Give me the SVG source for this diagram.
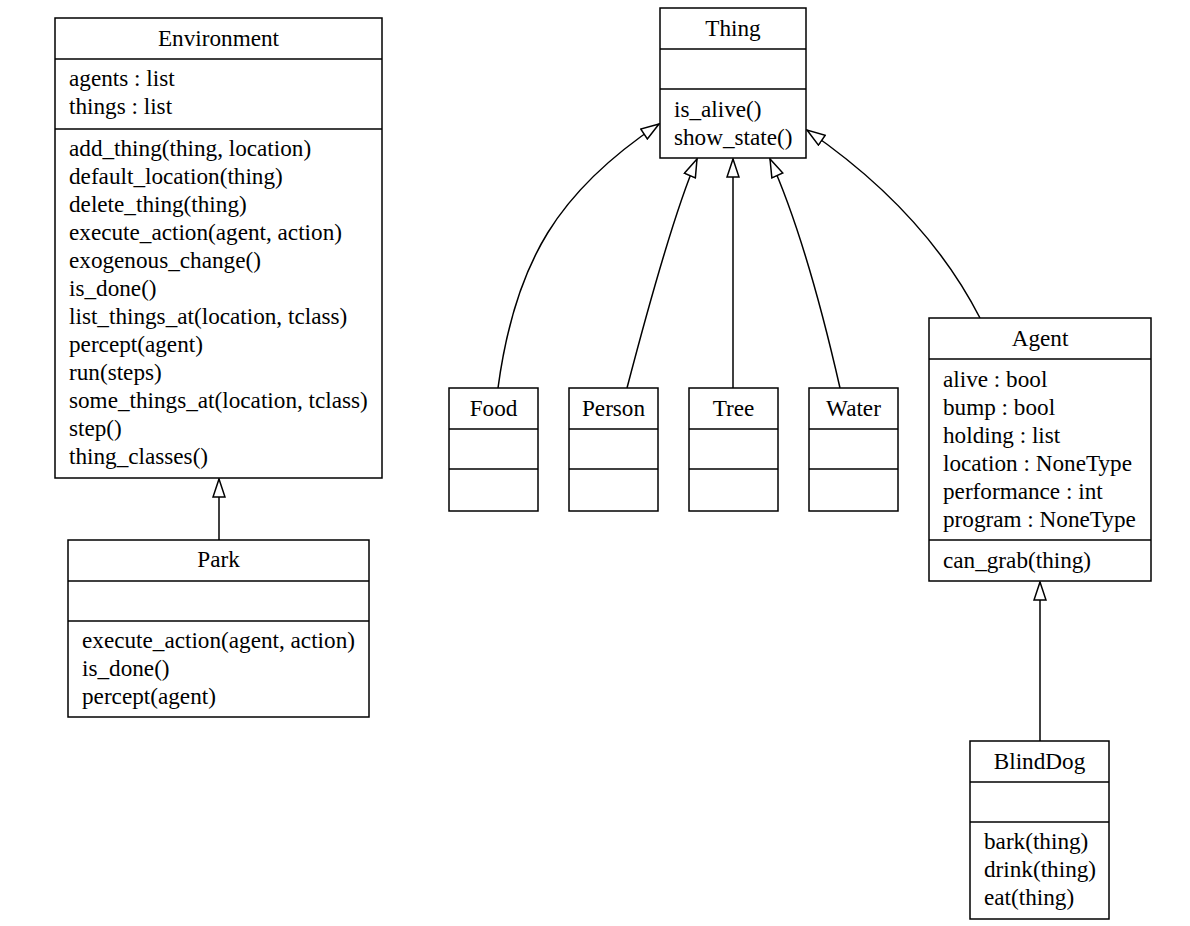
<svg xmlns="http://www.w3.org/2000/svg" width="1190" height="926" viewBox="0 0 1190 926">
<style>
.box{fill:#fff;stroke:#000;stroke-width:1.5}
.ln{stroke:#000;stroke-width:1.5}
text{font-family:"Liberation Serif","Times New Roman",serif;font-size:23.2px;fill:#000}
.t{text-anchor:middle}
.edge{fill:none;stroke:#000;stroke-width:1.5}
</style>
<defs>
<marker id="tri" markerUnits="userSpaceOnUse" markerWidth="20" markerHeight="14" viewBox="-1 -1 20 14" refX="18" refY="6" orient="auto">
<path d="M18,6 L0,0 L0,12 Z" fill="#fff" stroke="#000" stroke-width="1.5"/>
</marker>
</defs>
<rect width="1190" height="926" fill="#fff"/>
<g id="connectors">
<path class="edge" d="M219,540 L219,479" marker-end="url(#tri)"/>
<path class="edge" d="M498,388 C515,260 560,190 659,124" marker-end="url(#tri)"/>
<path class="edge" d="M627,388 C650,300 675,210 697,159" marker-end="url(#tri)"/>
<path class="edge" d="M733,388 L733,159" marker-end="url(#tri)"/>
<path class="edge" d="M840,388 C820,300 795,215 770,159" marker-end="url(#tri)"/>
<path class="edge" d="M980,318 C940,240 880,180 807,130" marker-end="url(#tri)"/>
<path class="edge" d="M1040,741 L1040,582" marker-end="url(#tri)"/>
</g>
<g id="Environment">
<rect class="box" x="55" y="18" width="327" height="460"/>
<line class="ln" x1="55" y1="59" x2="382" y2="59"/>
<line class="ln" x1="55" y1="129" x2="382" y2="129"/>
<text class="t" x="218.5" y="46">Environment</text>
<text x="69" y="86">agents : list</text>
<text x="69" y="114">things : list</text>
<text x="69" y="156">add_thing(thing, location)</text>
<text x="69" y="184">default_location(thing)</text>
<text x="69" y="212">delete_thing(thing)</text>
<text x="69" y="240">execute_action(agent, action)</text>
<text x="69" y="268">exogenous_change()</text>
<text x="69" y="296">is_done()</text>
<text x="69" y="324">list_things_at(location, tclass)</text>
<text x="69" y="352">percept(agent)</text>
<text x="69" y="380">run(steps)</text>
<text x="69" y="408">some_things_at(location, tclass)</text>
<text x="69" y="436">step()</text>
<text x="69" y="464">thing_classes()</text>
</g>
<g id="Park">
<rect class="box" x="68" y="540" width="301" height="177"/>
<line class="ln" x1="68" y1="581" x2="369" y2="581"/>
<line class="ln" x1="68" y1="621" x2="369" y2="621"/>
<text class="t" x="218.5" y="567">Park</text>
<text x="82" y="648">execute_action(agent, action)</text>
<text x="82" y="676">is_done()</text>
<text x="82" y="704">percept(agent)</text>
</g>
<g id="Thing">
<rect class="box" x="660" y="8" width="146" height="150"/>
<line class="ln" x1="660" y1="49" x2="806" y2="49"/>
<line class="ln" x1="660" y1="89" x2="806" y2="89"/>
<text class="t" x="733" y="36">Thing</text>
<text x="674" y="117">is_alive()</text>
<text x="674" y="145">show_state()</text>
</g>
<g id="Food">
<rect class="box" x="449" y="388" width="89" height="123"/>
<line class="ln" x1="449" y1="429" x2="538" y2="429"/>
<line class="ln" x1="449" y1="469" x2="538" y2="469"/>
<text class="t" x="493.5" y="416">Food</text>
</g>
<g id="Person">
<rect class="box" x="569" y="388" width="89" height="123"/>
<line class="ln" x1="569" y1="429" x2="658" y2="429"/>
<line class="ln" x1="569" y1="469" x2="658" y2="469"/>
<text class="t" x="613.5" y="416">Person</text>
</g>
<g id="Tree">
<rect class="box" x="689" y="388" width="89" height="123"/>
<line class="ln" x1="689" y1="429" x2="778" y2="429"/>
<line class="ln" x1="689" y1="469" x2="778" y2="469"/>
<text class="t" x="733.5" y="416">Tree</text>
</g>
<g id="Water">
<rect class="box" x="809" y="388" width="89" height="123"/>
<line class="ln" x1="809" y1="429" x2="898" y2="429"/>
<line class="ln" x1="809" y1="469" x2="898" y2="469"/>
<text class="t" x="853.5" y="416">Water</text>
</g>
<g id="Agent">
<rect class="box" x="929" y="318" width="222" height="263"/>
<line class="ln" x1="929" y1="359" x2="1151" y2="359"/>
<line class="ln" x1="929" y1="540" x2="1151" y2="540"/>
<text class="t" x="1040" y="346">Agent</text>
<text x="943" y="387">alive : bool</text>
<text x="943" y="415">bump : bool</text>
<text x="943" y="443">holding : list</text>
<text x="943" y="471">location : NoneType</text>
<text x="943" y="499">performance : int</text>
<text x="943" y="527">program : NoneType</text>
<text x="943" y="568">can_grab(thing)</text>
</g>
<g id="BlindDog">
<rect class="box" x="970" y="741" width="139" height="178"/>
<line class="ln" x1="970" y1="782" x2="1109" y2="782"/>
<line class="ln" x1="970" y1="822" x2="1109" y2="822"/>
<text class="t" x="1039.5" y="769">BlindDog</text>
<text x="984" y="849">bark(thing)</text>
<text x="984" y="877">drink(thing)</text>
<text x="984" y="905">eat(thing)</text>
</g>
</svg>
